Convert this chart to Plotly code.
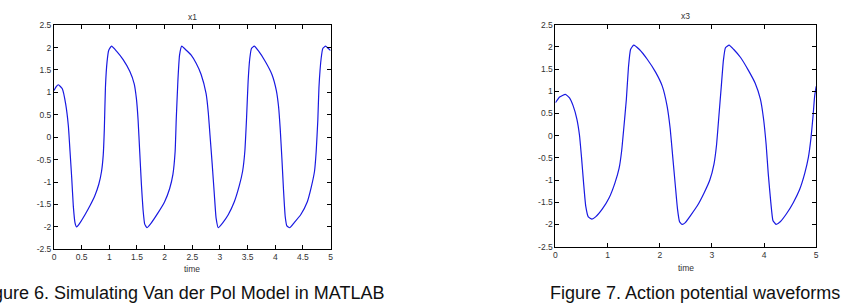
import plotly.graph_objects as go

# ---- data ----
t1 = [0.00, 0.04, 0.08, 0.15, 0.21, 0.26, 0.29, 0.32, 0.35, 0.38, 0.41,
      0.47, 0.56, 0.65, 0.74, 0.81, 0.86, 0.89, 0.91, 0.93, 0.96, 0.99, 1.04,
      1.13, 1.25, 1.37, 1.45, 1.49, 1.52, 1.55, 1.58, 1.61, 1.64, 1.68,
      1.76, 1.88, 2.00, 2.09, 2.15, 2.19, 2.21, 2.24, 2.27, 2.31,
      2.39, 2.48, 2.57, 2.66, 2.75, 2.79, 2.82, 2.86, 2.90, 2.93, 2.97,
      3.05, 3.15, 3.26, 3.35, 3.41, 3.45, 3.48, 3.51, 3.54, 3.57, 3.62,
      3.70, 3.82, 3.94, 4.02, 4.06, 4.09, 4.12, 4.15, 4.18, 4.21, 4.26,
      4.34, 4.46, 4.58, 4.65, 4.71, 4.74, 4.77, 4.79, 4.83, 4.86, 4.91,
      4.95, 5.00]
x1 = [1.04, 1.13, 1.17, 1.08, 0.75, 0.25, -0.32, -0.90, -1.55, -1.91, -2.00,
      -1.91, -1.73, -1.53, -1.30, -1.05, -0.76, -0.40, 0.18, 1.11, 1.69, 1.94, 2.03,
      1.92, 1.73, 1.47, 1.19, 0.86, 0.39, -0.33, -1.05, -1.62, -1.94, -2.02,
      -1.91, -1.69, -1.44, -1.15, -0.83, -0.32, 0.39, 1.26, 1.83, 2.03,
      1.94, 1.83, 1.65, 1.40, 0.97, 0.54, 0.05, -0.60, -1.30, -1.80, -2.02,
      -1.91, -1.73, -1.44, -1.08, -0.76, -0.32, 0.39, 1.26, 1.76, 1.98, 2.03,
      1.92, 1.69, 1.40, 1.04, 0.68, 0.18, -0.47, -1.19, -1.77, -1.98, -2.02,
      -1.91, -1.73, -1.44, -1.12, -0.76, -0.32, 0.39, 1.11, 1.76, 1.98, 2.03,
      1.99, 1.93]

t3 = [0.00, 0.08, 0.19, 0.27, 0.34, 0.41, 0.46, 0.50, 0.54, 0.58, 0.63, 0.70,
      0.77, 0.90, 1.03, 1.14, 1.22, 1.27, 1.31, 1.36, 1.40, 1.44, 1.50,
      1.61, 1.76, 1.92, 2.05, 2.14, 2.20, 2.25, 2.30, 2.34, 2.38, 2.43,
      2.49, 2.59, 2.72, 2.85, 2.96, 3.04, 3.09, 3.13, 3.18, 3.22, 3.26, 3.33,
      3.42, 3.55, 3.70, 3.83, 3.93, 3.99, 4.04, 4.08, 4.13, 4.17, 4.23,
      4.31, 4.43, 4.56, 4.68, 4.78, 4.85, 4.90, 4.94, 4.97, 5.00]
x3 = [0.74, 0.87, 0.93, 0.85, 0.67, 0.38, 0.02, -0.49, -1.07, -1.58, -1.83, -1.88,
      -1.83, -1.65, -1.40, -1.07, -0.74, -0.34, 0.16, 0.82, 1.54, 1.94, 2.04,
      1.94, 1.72, 1.43, 1.11, 0.67, 0.16, -0.49, -1.14, -1.65, -1.94, -2.00,
      -1.96, -1.80, -1.58, -1.29, -1.00, -0.64, -0.20, 0.38, 1.11, 1.69, 1.98, 2.04,
      1.94, 1.76, 1.47, 1.18, 0.82, 0.38, -0.20, -0.85, -1.51, -1.91, -2.00,
      -1.94, -1.76, -1.51, -1.22, -0.85, -0.49, -0.05, 0.45, 0.89, 1.11]

# tick labels (MATLAB style, hyphen minus)
y_tickvals = [-2.5, -2, -1.5, -1, -0.5, 0, 0.5, 1, 1.5, 2, 2.5]
y_ticktext = ["-2.5", "-2", "-1.5", "-1", "-0.5", "0", "0.5", "1", "1.5", "2", "2.5"]
x1_tickvals = [0, 0.5, 1, 1.5, 2, 2.5, 3, 3.5, 4, 4.5, 5]
x1_ticktext = ["0", "0.5", "1", "1.5", "2", "2.5", "3", "3.5", "4", "4.5", "5"]
x3_tickvals = [0, 1, 2, 3, 4, 5]
x3_ticktext = ["0", "1", "2", "3", "4", "5"]

titles = ["x1", "x3"]
xlabel = "time"
captions = ["Figure 6. Simulating Van der Pol Model in MATLAB",
            "Figure 7. Action potential waveforms"]

W, H = 854, 306
FONT = "Liberation Sans, Arial, sans-serif"
LINE = "rgb(25,25,225)"

fig = go.Figure()
fig.add_trace(go.Scatter(x=t1, y=x1, mode="lines", xaxis="x", yaxis="y",
                         line=dict(color=LINE, width=1.2, shape="spline", smoothing=0.4)))
fig.add_trace(go.Scatter(x=t3, y=x3, mode="lines", xaxis="x2", yaxis="y2",
                         line=dict(color=LINE, width=1.2, shape="spline", smoothing=0.4)))

def ax(**kw):
    d = dict(showline=True, linecolor="black", linewidth=1, mirror="ticks",
             ticks="inside", ticklen=4, tickcolor="black", tickwidth=1,
             showgrid=False, zeroline=False, tickmode="array",
             tickfont=dict(size=8.5, color="#333333", family=FONT))
    d.update(kw)
    return d

L = dict(x0=52.3, x1=330.5, top=20.8, bot=252.5)
R = dict(x0=556.7, x1=819.0, top=20.3, bot=249.8)

fig.update_layout(
    width=W, height=H, margin=dict(l=0, r=0, t=0, b=0),
    paper_bgcolor="white", plot_bgcolor="white", showlegend=False,
    font=dict(family=FONT),
    xaxis=ax(domain=[L["x0"] / W, L["x1"] / W], range=[0, 5],
             tickvals=x1_tickvals, ticktext=x1_ticktext, anchor="y"),
    yaxis=ax(domain=[(H - L["bot"]) / H, (H - L["top"]) / H], range=[-2.5, 2.5],
             tickvals=y_tickvals, ticktext=y_ticktext, anchor="x"),
    xaxis2=ax(domain=[R["x0"] / W, R["x1"] / W], range=[0, 5],
              tickvals=x3_tickvals, ticktext=x3_ticktext, anchor="y2"),
    yaxis2=ax(domain=[(H - R["bot"]) / H, (H - R["top"]) / H], range=[-2.5, 2.5],
              tickvals=y_tickvals, ticktext=y_ticktext, anchor="x2"),
)

ann = []
for P, ttl, ty, ly in [(L, titles[0], 12, 273), (R, titles[1], 11, 272)]:
    cx = (P["x0"] + P["x1"]) / 2 / W
    ann.append(dict(text=ttl, x=cx, y=(H - ty) / H, xref="paper", yref="paper",
                    xanchor="center", yanchor="middle", showarrow=False,
                    font=dict(size=8.5, color="#333333", family=FONT)))
    ann.append(dict(text=xlabel, x=cx, y=(H - ly) / H, xref="paper", yref="paper",
                    xanchor="center", yanchor="middle", showarrow=False,
                    font=dict(size=8.5, color="#333333", family=FONT)))
ann.append(dict(text=captions[0], x=387 / W, y=(H - 298) / H, xref="paper", yref="paper",
                xanchor="right", yanchor="middle", showarrow=False,
                font=dict(size=18, color="#111111", family=FONT)))
ann.append(dict(text=captions[1], x=549 / W, y=(H - 298) / H, xref="paper", yref="paper",
                xanchor="left", yanchor="middle", showarrow=False,
                font=dict(size=18, color="#111111", family=FONT)))
fig.update_layout(annotations=ann)

fig.write_html("out.html")
